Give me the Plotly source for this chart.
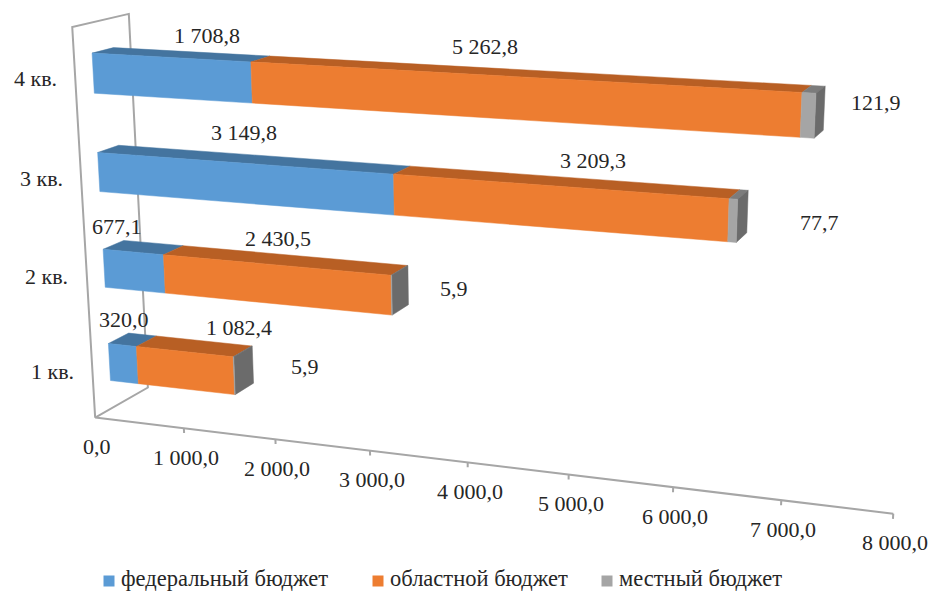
import numpy as np
import plotly.graph_objects as go

W, H = 931, 593

# ---- data ----
categories = ["1 кв.", "2 кв.", "3 кв.", "4 кв."]
federal = [320.0, 677.1, 3149.8, 1708.8]
oblast = [1082.4, 2430.5, 3209.3, 5262.8]
local = [5.9, 5.9, 77.7, 121.9]
series_names = ["федеральный бюджет", "областной бюджет", "местный бюджет"]
ticks = [0, 1000, 2000, 3000, 4000, 5000, 6000, 7000, 8000]
tick_text = ["0,0", "1 000,0", "2 000,0", "3 000,0", "4 000,0", "5 000,0", "6 000,0", "7 000,0", "8 000,0"]

# ---- styling and layout ----
front_col = ["#5B9BD5", "#ED7D31", "#A5A5A5"]
top_col = ["#44749F", "#B85F24", "#7C7C7C"]
end_col = "#6B6B6B"
frame_col = "#A6A6A6"
text_col = "#262626"
FONT = 22
LEGEND_FONT = 22.5

# perspective scale of the 3-D value/depth/category box
VIEW = np.array([[686.7566, 59.68705, -26.74287, 95.16084],
                 [32.05935, -11.74491, -392.0654, 417.6056],
                 [-0.1246265, 0.04723972, -0.0528806, 1.0]])
AX_MAX, N_CAT = 8000.0, 4.0
GAP = 0.30            # free share of a category below and above its bar
D0, D1 = 0.31, 0.69   # depth span of the bars in the box

# label centres as placed by hand in the original chart, per category and series
label_pos = [[(124, 319), (239, 327), (305, 366)],
             [(117, 226), (278, 238), (454, 288)],
             [(244, 132), (593, 160), (819, 222)],
             [(207, 35), (485, 46), (876, 102)]]
legend_text_x = [119, 388, 617]


def scale(value, depth, cat):
    q = VIEW @ np.array([value / AX_MAX, depth, cat / N_CAT, 1.0])
    return q[0] / q[2], q[1] / q[2]


def fmt(v):
    return f"{v:,.1f}".replace(",", " ").replace(".", ",")


series = [federal, oblast, local]
stack = np.cumsum(np.array(series), axis=0)   # series x category
fig = go.Figure()


def add_poly(polys, color, name):
    xs, ys = [], []
    for poly in polys:
        for p in poly + [poly[0]]:
            a, b = scale(*p)
            xs.append(a)
            ys.append(b)
        xs.append(None)
        ys.append(None)
    fig.add_trace(go.Scatter(x=xs, y=ys, mode="lines", fill="toself", fillcolor=color, name=name,
                             line=dict(width=0.5, color=color), showlegend=False, hoverinfo="skip"))


# box frame, value axis and its ticks
frame = [(0, 0, 0), (0, 0, N_CAT), (0, 1, N_CAT), (0, 1, 0), (0, 0, 0), (AX_MAX, 0, 0)]
fx, fy = map(list, zip(*[scale(*p) for p in frame]))
for t in ticks[1:]:
    a0, b0 = scale(t, 0, 0)
    a1, b1 = scale(t, 0, -0.05)
    fx += [None, a0, a1]
    fy += [None, b0, b1]
fig.add_trace(go.Scatter(x=fx, y=fy, mode="lines", line=dict(color=frame_col, width=2),
                         showlegend=False, hoverinfo="skip"))

# stacked bars
for k, name in enumerate(series_names):
    top, end, front = [], [], []
    for i in range(len(categories)):
        a = 0 if k == 0 else stack[k - 1][i]
        b = stack[k][i]
        z0, z1 = i + GAP, i + 1 - GAP
        top.append([(a, D0, z1), (b, D0, z1), (b, D1, z1), (a, D1, z1)])
        front.append([(a, D0, z0), (b, D0, z0), (b, D0, z1), (a, D0, z1)])
        if k == len(series_names) - 1:
            end.append([(b, D0, z0), (b, D1, z0), (b, D1, z1), (b, D0, z1)])
    add_poly(top, top_col[k], name)
    if end:
        add_poly(end, end_col, name)
    add_poly(front, front_col[k], name)

anns = []


def text(x, y, t, anchor="center", size=FONT):
    anns.append(dict(x=x, y=y, text=t, xref="x", yref="y", xanchor=anchor, yanchor="middle",
                     showarrow=False, font=dict(size=size, color=text_col)))


for t, s in zip(ticks, tick_text):
    a, b = scale(t, 0, 0)
    text(a + 2, b + 29, s)
for i, c in enumerate(categories):
    a, b = scale(0, 0, i + 0.5)
    text(a - 40, b, c)
for i in range(len(categories)):
    for k in range(len(series)):
        text(*label_pos[i][k], fmt(series[k][i]))

# legend row
for name, tx, col in zip(series_names, legend_text_x, front_col):
    fig.add_trace(go.Scatter(x=[tx - 10], y=[581], mode="markers", name=name, showlegend=False, hoverinfo="skip",
                             marker=dict(symbol="square", size=11, color=col)))
    text(tx, 578.5, name, "left", LEGEND_FONT)

fig.update_layout(width=W, height=H, margin=dict(l=0, r=0, t=0, b=0), paper_bgcolor="white", plot_bgcolor="white",
                  font=dict(family="Liberation Serif", size=FONT, color=text_col), annotations=anns, showlegend=False,
                  xaxis=dict(range=[0, W], visible=False, fixedrange=True),
                  yaxis=dict(range=[H, 0], visible=False, fixedrange=True))
fig.write_html("out.html", post_script="document.body.style.margin='0';", config=dict(displayModeBar=False))
